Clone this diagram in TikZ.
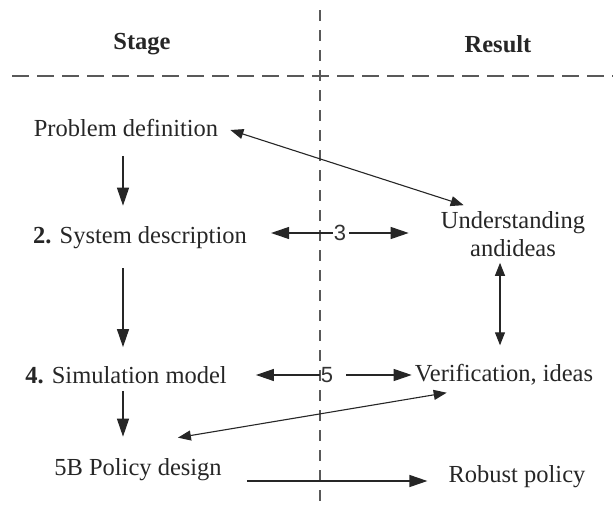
\documentclass[tikz,border=0pt]{standalone}
\usepackage{fontspec}
\setmainfont{Liberation Serif}
\newfontfamily\numfont{Liberation Sans}
\usetikzlibrary{arrows.meta}

\tikzset{
  txt/.style={inner sep=1pt,text=black!85,font=\fontsize{24.5}{28}\selectfont},
  hd/.style={inner sep=1pt,text=black!85,font=\fontsize{24.5}{28}\selectfont\bfseries},
  num/.style={inner sep=1pt,text=black!80,font=\fontsize{22}{26}\selectfont\numfont},
  arr/.style={draw=black!85,line width=1.2pt,-{Triangle[length=18pt,width=12pt]}},
  darr/.style={draw=black!85,line width=1.1pt,{Triangle[length=13pt,width=10pt]}-{Triangle[length=13pt,width=10pt]}},
  sep/.style={draw=black!65,line width=1.6pt}
}

\begin{document}
\begin{tikzpicture}[x=1pt,y=-1pt]
  \useasboundingbox (0,0) rectangle (613,506);

  % the two dashed separators
  \draw[sep,dash pattern=on 11pt off 9pt] (320,10) -- (320,506);
  \draw[sep,dash pattern=on 17pt off 8pt] (12,76) -- (613,76);

  \node[hd] (stage)  at (142,44) {Stage};
  \node[hd] (result) at (498,44) {Result};

  \node[txt] (pd)  at (126,128) {Problem definition};
  \node[txt] (sd)  at (140,238) {\textbf{2.} System description};
  \node[txt] (sm)  at (126,375) {\textbf{4.} Simulation model};
  \node[txt] (pol) at (138,470) {5B Policy design};

  \node[txt,align=center] (und) at (513,234) {Understanding\\andideas};
  \node[txt] (ver) at (504,375) {Verification, ideas};
  \node[txt] (rob) at (517,477) {Robust policy};

  \node[num] (n3) at (340,233) {3};
  \node[num] (n5) at (327,375) {5};

  % stage column
  \draw[arr,shorten <=18pt,shorten >=20pt] ([xshift=-3pt]pd.south) -- ([xshift=-17pt]sd.north);
  \draw[arr,shorten <=18pt,shorten >=18pt] ([xshift=-17pt]sd.south) -- ([xshift=-3pt]sm.north);
  \draw[arr,shorten <=6pt,shorten >=21pt] ([xshift=-3pt]sm.south) -- ([xshift=-15pt]pol.north);

  % links to the results
  \draw[darr] ([xshift=11pt,yshift=-2pt]pd.east) -- ([xshift=24pt,yshift=5pt]und.north west);
  \draw[arr] (n3.west) -- ([yshift=5pt,xshift=23pt]sd.east);
  \draw[arr,shorten <=2pt,shorten >=31pt] (n3.east) -- ([yshift=1pt]und.west);
  \draw[arr,shorten >=28pt] (n5.west) -- (sm.east);
  \draw[arr,shorten <=12pt,shorten >=2pt] (n5.east) -- (ver.west);
  \draw[darr,shorten <=5pt,shorten >=18pt] ([xshift=-13pt]und.south) -- ([xshift=-4pt]ver.north);
  \draw[darr] ([xshift=33pt,yshift=-6pt]ver.south west) -- ([xshift=-45pt,yshift=20pt]pol.north east);
  \draw[arr,shorten <=24pt,shorten >=20pt] ([yshift=-11pt]pol.east) -- ([yshift=-4pt]rob.west);
\end{tikzpicture}
\end{document}
